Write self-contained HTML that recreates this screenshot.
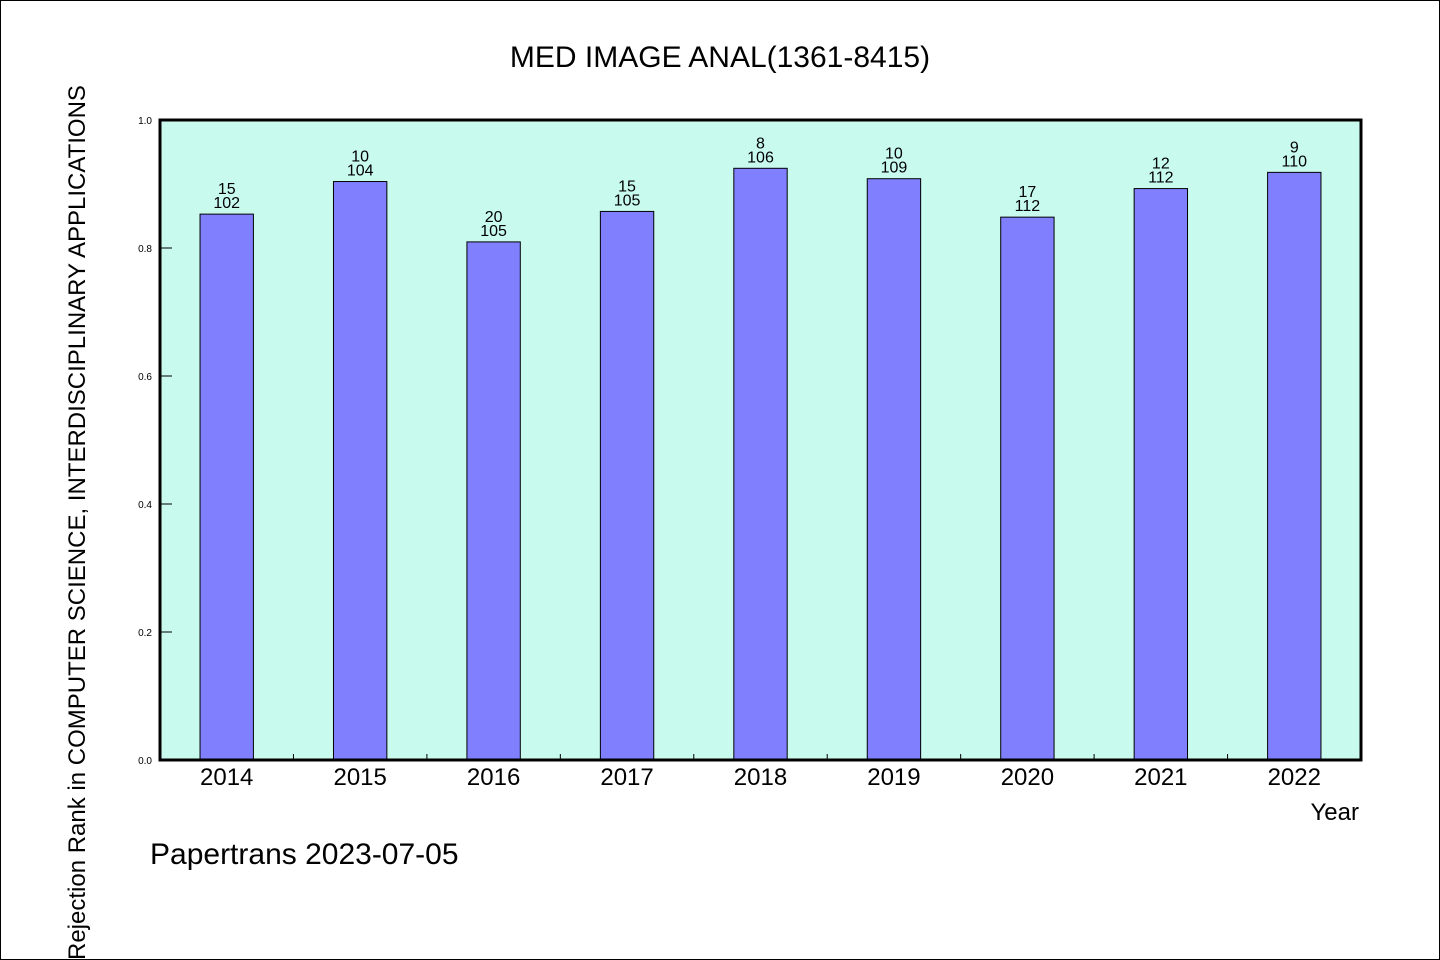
<!DOCTYPE html>
<html><head><meta charset="utf-8"><style>
html,body{margin:0;padding:0;background:#fff}
svg{display:block;font-family:"WenQuanYi Zen Hei","Liberation Sans",sans-serif}
</style></head><body>
<svg id="chart" width="1440" height="960" viewBox="0 0 1440 960" xmlns="http://www.w3.org/2000/svg">
<rect x="0.5" y="0.5" width="1439" height="959" fill="#fff" stroke="#000"/>
<text x="720" y="67" font-size="30" text-anchor="middle">MED IMAGE ANAL(1361-8415)</text>
<rect x="160" y="120" width="1201" height="640" fill="#c8faee"/>
<g id="marks"></g>
<rect x="160" y="120" width="1201" height="640" fill="none" stroke="#000" stroke-width="3"/>
<text x="1359" y="820" font-size="24" text-anchor="end">Year</text>
<text transform="translate(85,960) rotate(-90)" font-size="24">Rejection Rank in COMPUTER SCIENCE, INTERDISCIPLINARY APPLICATIONS</text>
<text x="150" y="864" font-size="30">Papertrans 2023-07-05</text>
</svg>
<script>
const years = ["2014","2015","2016","2017","2018","2019","2020","2021","2022"];
const ranks = [15,10,20,15,8,10,17,12,9];
const totals = [102,104,105,105,106,109,112,112,110];
const yTicks = [0,0.2,0.4,0.6,0.8,1.0];
const NS="http://www.w3.org/2000/svg";
const X0=160,X1=1361,Y0=760,Y1=120;
const band=(X1-X0)/years.length;
const xc=i=>X0+band*(i+0.5);
const ys=v=>Y0-(v-0)/(1-0)*(Y0-Y1);
const g=document.getElementById('marks');
function mk(t,a){const e=document.createElementNS(NS,t);for(const k in a)e.setAttribute(k,a[k]);g.appendChild(e);return e;}
yTicks.forEach(v=>{
  const l=mk('line',{x1:X0,x2:X0+12,y1:ys(v),y2:ys(v),stroke:'#000','stroke-width':1});
  
  
  const t=mk('text',{x:X0-8,y:ys(v)+4,'font-size':10,'text-anchor':'end'});
  t.textContent=v.toFixed(1);
  
  
});
years.forEach((y,i)=>{
  const v=1-ranks[i]/totals[i];
  const bw=band*0.4;
  const r=mk('rect',{x:xc(i)-bw/2,y:ys(v),width:bw,height:Y0-ys(v),fill:'#8080ff',stroke:'#000','stroke-width':1});
  
  
  const t1=mk('text',{x:xc(i),y:ys(v)-20,'font-size':16,'text-anchor':'middle'});
  t1.textContent=ranks[i];
  
  
  const t2=mk('text',{x:xc(i),y:ys(v)-6,'font-size':16,'text-anchor':'middle'});
  t2.textContent=totals[i];
  
  
  const xl=mk('text',{x:xc(i),y:785,'font-size':24,'text-anchor':'middle'});
  xl.textContent=y;
  
  
  if(i>0){
    const tk=mk('line',{x1:X0+band*i,x2:X0+band*i,y1:Y0,y2:Y0-6,stroke:'#000','stroke-width':1});
    
    
  }
});
</script>
</body></html>
